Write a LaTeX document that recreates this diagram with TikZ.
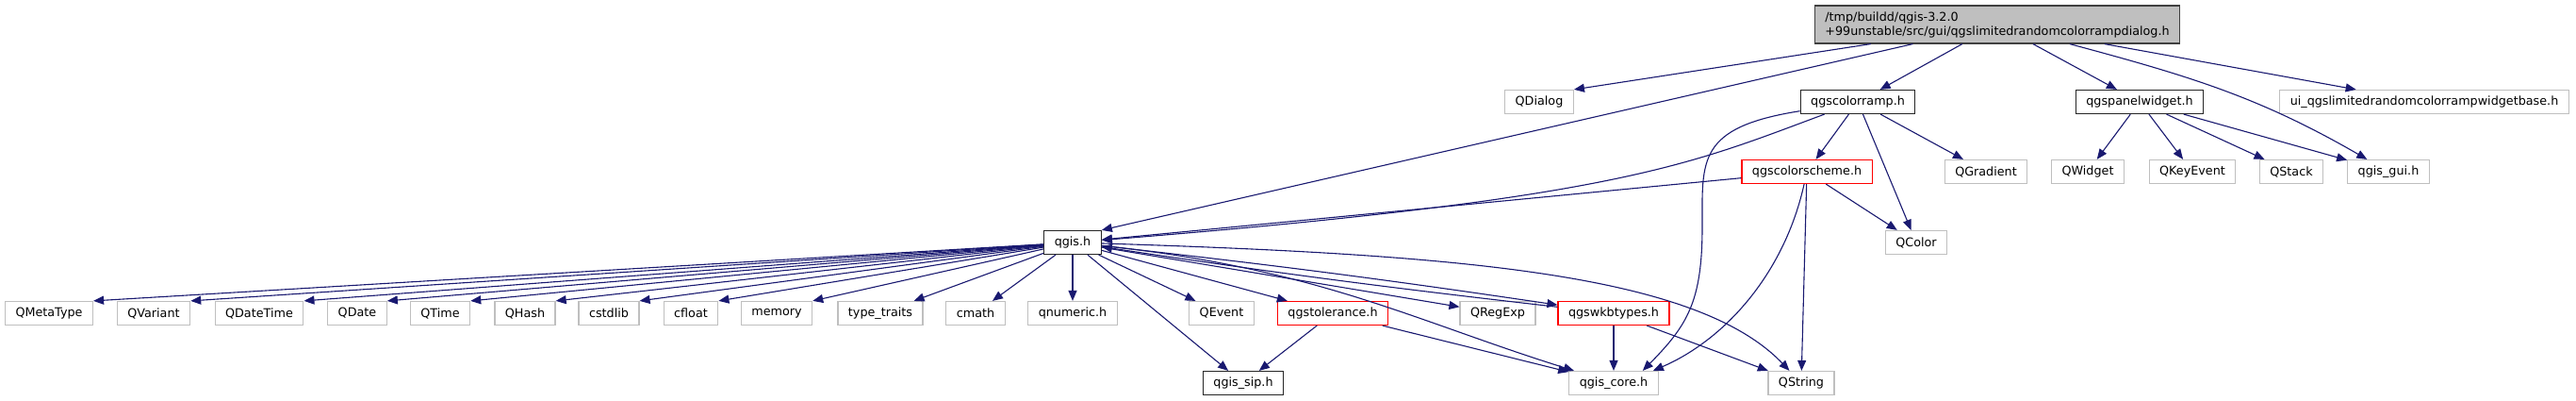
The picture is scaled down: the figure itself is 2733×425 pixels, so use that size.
\documentclass[tikz,border=0pt]{standalone}
\usepackage{fontspec}
\setmainfont{DejaVu Sans}
\usetikzlibrary{arrows.meta, calc}
\definecolor{edgeblue}{HTML}{191970}
\definecolor{boxgray}{HTML}{BFBFBF}

\begin{document}
\begin{tikzpicture}[x=1pt, y=-1pt, >={Triangle[length=11pt, width=9pt]},
  every node/.style={font=\fontsize{12.75}{15}\selectfont, inner xsep=11pt, inner ysep=0pt, minimum height=25pt, line width=1.2pt},
  sysfile/.style={draw=boxgray},
  docfile/.style={draw=black!85},
  badfile/.style={draw=red},
  dep/.style={->, draw=edgeblue, line width=1.1pt}]
  \useasboundingbox (0,0) rectangle (2733,425);

  % top: the dialog header
  \node[draw=black!75, fill=boxgray, minimum height=40pt, align=left] (main) at (2119,26)
    {/tmp/buildd/qgis-3.2.0\\+99unstable/src/gui/qgslimitedrandomcolorrampdialog.h};

  % first row
  \node[sysfile] (qdialog) at (1633,108) {QDialog};
  \node[docfile] (colorramp) at (1971,108) {qgscolorramp.h};
  \node[docfile] (panelwidget) at (2270,108) {qgspanelwidget.h};
  \node[sysfile] (uibase) at (2572,108) {ui\_qgslimitedrandomcolorrampwidgetbase.h};

  % second row
  \node[badfile] (colorscheme) at (1917,182) {qgscolorscheme.h};
  \node[sysfile] (qgradient) at (2107,182) {QGradient};
  \node[sysfile] (qwidget) at (2215,182) {QWidget};
  \node[sysfile] (qkeyevent) at (2326,182) {QKeyEvent};
  \node[sysfile] (qstack) at (2431,182) {QStack};
  \node[sysfile] (qgisgui) at (2534,182) {qgis\_gui.h};

  % third row
  \node[docfile] (qgis) at (1138,257) {qgis.h};
  \node[sysfile] (qcolor) at (2033,257) {QColor};

  % fourth row
  \node[sysfile] (qmetatype) at (52,332) {QMetaType};
  \node[sysfile] (qvariant) at (163,332) {QVariant};
  \node[sysfile] (qdatetime) at (275,332) {QDateTime};
  \node[sysfile] (qdate) at (379,332) {QDate};
  \node[sysfile] (qtime) at (467,332) {QTime};
  \node[sysfile] (qhash) at (557,332) {QHash};
  \node[sysfile] (cstdlib) at (646,332) {cstdlib};
  \node[sysfile] (cfloat) at (733,332) {cfloat};
  \node[sysfile] (memory) at (824,332) {memory};
  \node[sysfile] (typetraits) at (934,332) {type\_traits};
  \node[sysfile] (cmath) at (1035,332) {cmath};
  \node[sysfile] (qnumeric) at (1138,332) {qnumeric.h};
  \node[sysfile] (qevent) at (1296,332) {QEvent};
  \node[badfile] (tolerance) at (1414,332) {qgstolerance.h};
  \node[sysfile] (qregexp) at (1589,332) {QRegExp};
  \node[badfile] (wkbtypes) at (1712,332) {qgswkbtypes.h};

  % bottom row
  \node[docfile] (qgissip) at (1319,406) {qgis\_sip.h};
  \node[sysfile] (qgiscore) at (1712,406) {qgis\_core.h};
  \node[sysfile] (qstring) at (1911,406) {QString};

  % includes of the dialog header
  \draw[dep] (main) -- (qdialog.north east);
  \draw[dep] (main) -- (qgis.north east);
  \draw[dep] (main) -- (colorramp);
  \draw[dep] (main) -- (panelwidget);
  \draw[dep] (main) to[out=-15, in=150] (qgisgui);
  \draw[dep] (main) -- (uibase);

  % qgscolorramp.h
  \draw[dep] (colorramp) -- (colorscheme);
  \draw[dep] (colorramp) -- (qgradient);
  \draw[dep] (colorramp) -- (qcolor);
  \draw[dep] (colorramp) .. controls (1790,175) and (1720,210) .. (qgis);
  \draw[dep] (colorramp) .. controls (1800,135) and (1806,170) .. (1806,240)
    .. controls (1806,320) and (1790,345) .. ($(qgiscore.north east)+(-17,0)$);

  % qgscolorscheme.h
  \draw[dep] (colorscheme) -- (qgis);
  \draw[dep] (colorscheme) -- (qcolor);
  \draw[dep] (colorscheme) .. controls (1893,290) and (1830,360) .. ($(qgiscore.north east)+(-6,0)$);
  \draw[dep] (colorscheme) -- (qstring);

  % qgspanelwidget.h
  \draw[dep] (panelwidget) -- (qwidget);
  \draw[dep] (panelwidget) -- (qkeyevent);
  \draw[dep] (panelwidget) -- (qstack);
  \draw[dep] (panelwidget) -- (qgisgui);

  % qgis.h
  \draw[dep] (qgis) -- (qmetatype.north east);
  \draw[dep] (qgis) -- (qvariant.north east);
  \draw[dep] (qgis) -- (qdatetime.north east);
  \draw[dep] (qgis) -- (qdate.north east);
  \draw[dep] (qgis) -- (qtime.north east);
  \draw[dep] (qgis) -- (qhash.north east);
  \draw[dep] (qgis) -- (cstdlib.north east);
  \draw[dep] (qgis) -- (cfloat.north east);
  \draw[dep] (qgis) -- (memory.north east);
  \draw[dep] (qgis) -- (typetraits);
  \draw[dep] (qgis) -- (cmath);
  \draw[dep] (qgis) -- (qnumeric);
  \draw[dep] (qgis) -- (qgissip);
  \draw[dep] (qgis) -- (qevent);
  \draw[dep] (qgis) -- (tolerance);
  \draw[dep] (qgis) -- (qregexp);
  \draw[dep] (qgis) to[bend left=1] (wkbtypes);
  \draw[dep] (qgis) .. controls (1400,285) and (1500,340) .. (qgiscore);
  \draw[dep] (qgis) .. controls (1550,270) and (1800,290) .. (qstring);

  % qgstolerance.h and qgswkbtypes.h
  \draw[dep] (tolerance) -- (qgissip);
  \draw[dep] (tolerance) -- (qgiscore);
  \draw[dep] (wkbtypes) to[bend left=1] (qgis);
  \draw[dep] (wkbtypes) -- (qgiscore);
  \draw[dep] (wkbtypes) -- (qstring);
\end{tikzpicture}
\end{document}
